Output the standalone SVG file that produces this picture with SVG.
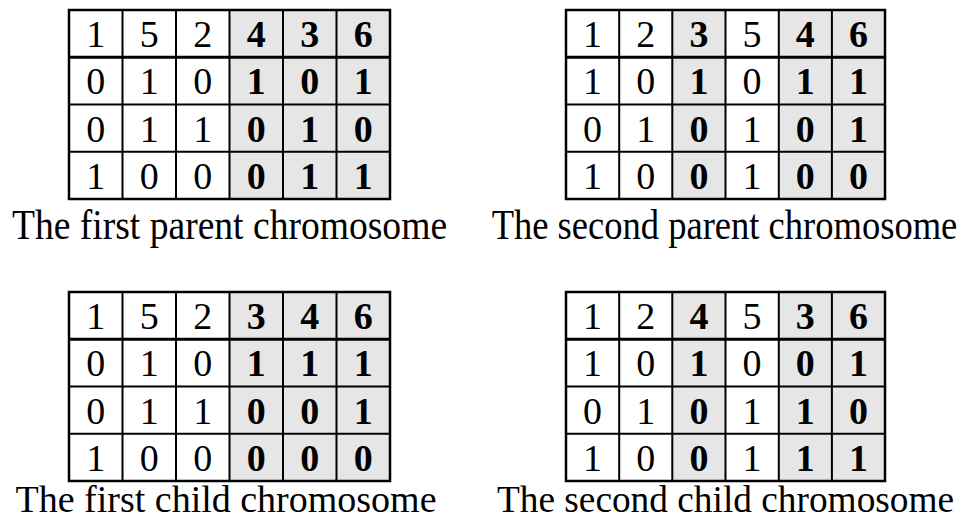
<svg xmlns="http://www.w3.org/2000/svg" width="969" height="520" viewBox="0 0 969 520">
<style>
.bg{fill:#ffffff}
.g{fill:#e6e6e6}
.ln{fill:none;stroke:#000;stroke-width:2}
.hd{fill:none;stroke:#000;stroke-width:3}
.ob{fill:none;stroke:#000;stroke-width:2.5}
text{font-family:"Liberation Serif","Times New Roman",serif;fill:#000}
.d{font-size:38px;text-anchor:middle}
.b{font-weight:bold}
.cap{font-size:42px;text-anchor:middle}
.cap2{font-size:38px;text-anchor:middle}
</style>
<rect class="bg" x="0" y="0" width="969" height="520"/>

<g id="parent1">
<rect class="g" x="229.5" y="10" width="160.5" height="189"/>
<path class="ln" d="M122.5 10V199M176 10V199M229.5 10V199M283 10V199M336.5 10V199M69 104.5H390M69 151.75H390"/>
<path class="hd" d="M69 57.25H390"/>
<rect class="ob" x="69" y="10" width="321" height="189"/>
<g class="d">
<text x="95.75" y="47">1</text><text x="149.25" y="47">5</text><text x="202.75" y="47">2</text><text class="b" x="256.25" y="47">4</text><text class="b" x="309.75" y="47">3</text><text class="b" x="363.25" y="47">6</text>
<text x="95.75" y="94.25">0</text><text x="149.25" y="94.25">1</text><text x="202.75" y="94.25">0</text><text class="b" x="256.25" y="94.25">1</text><text class="b" x="309.75" y="94.25">0</text><text class="b" x="363.25" y="94.25">1</text>
<text x="95.75" y="141.5">0</text><text x="149.25" y="141.5">1</text><text x="202.75" y="141.5">1</text><text class="b" x="256.25" y="141.5">0</text><text class="b" x="309.75" y="141.5">1</text><text class="b" x="363.25" y="141.5">0</text>
<text x="95.75" y="188.75">1</text><text x="149.25" y="188.75">0</text><text x="202.75" y="188.75">0</text><text class="b" x="256.25" y="188.75">0</text><text class="b" x="309.75" y="188.75">1</text><text class="b" x="363.25" y="188.75">1</text>
</g>
<text class="cap" transform="translate(229.5 239) scale(0.895 1)">The first parent chromosome</text>
</g>

<g id="parent2">
<rect class="g" x="672.3" y="10" width="53.2" height="189"/>
<rect class="g" x="778.8" y="10" width="106.2" height="189"/>
<path class="ln" d="M619.2 10V199M672.3 10V199M725.5 10V199M778.8 10V199M831.9 10V199M566 104.5H885M566 151.75H885"/>
<path class="hd" d="M566 57.25H885"/>
<rect class="ob" x="566" y="10" width="319" height="189"/>
<g class="d">
<text x="592.6" y="47">1</text><text x="645.8" y="47">2</text><text class="b" x="698.9" y="47">3</text><text x="752.1" y="47">5</text><text class="b" x="805.3" y="47">4</text><text class="b" x="858.4" y="47">6</text>
<text x="592.6" y="94.25">1</text><text x="645.8" y="94.25">0</text><text class="b" x="698.9" y="94.25">1</text><text x="752.1" y="94.25">0</text><text class="b" x="805.3" y="94.25">1</text><text class="b" x="858.4" y="94.25">1</text>
<text x="592.6" y="141.5">0</text><text x="645.8" y="141.5">1</text><text class="b" x="698.9" y="141.5">0</text><text x="752.1" y="141.5">1</text><text class="b" x="805.3" y="141.5">0</text><text class="b" x="858.4" y="141.5">1</text>
<text x="592.6" y="188.75">1</text><text x="645.8" y="188.75">0</text><text class="b" x="698.9" y="188.75">0</text><text x="752.1" y="188.75">1</text><text class="b" x="805.3" y="188.75">0</text><text class="b" x="858.4" y="188.75">0</text>
</g>
<text class="cap" transform="translate(724.5 239) scale(0.87 1)">The second parent chromosome</text>
</g>

<g id="child1">
<rect class="g" x="229.5" y="292" width="160.5" height="189"/>
<path class="ln" d="M122.5 292V481M176 292V481M229.5 292V481M283 292V481M336.5 292V481M69 386.5H390M69 433.75H390"/>
<path class="hd" d="M69 339.25H390"/>
<rect class="ob" x="69" y="292" width="321" height="189"/>
<g class="d">
<text x="95.75" y="329">1</text><text x="149.25" y="329">5</text><text x="202.75" y="329">2</text><text class="b" x="256.25" y="329">3</text><text class="b" x="309.75" y="329">4</text><text class="b" x="363.25" y="329">6</text>
<text x="95.75" y="376.25">0</text><text x="149.25" y="376.25">1</text><text x="202.75" y="376.25">0</text><text class="b" x="256.25" y="376.25">1</text><text class="b" x="309.75" y="376.25">1</text><text class="b" x="363.25" y="376.25">1</text>
<text x="95.75" y="423.5">0</text><text x="149.25" y="423.5">1</text><text x="202.75" y="423.5">1</text><text class="b" x="256.25" y="423.5">0</text><text class="b" x="309.75" y="423.5">0</text><text class="b" x="363.25" y="423.5">1</text>
<text x="95.75" y="470.5">1</text><text x="149.25" y="470.5">0</text><text x="202.75" y="470.5">0</text><text class="b" x="256.25" y="470.5">0</text><text class="b" x="309.75" y="470.5">0</text><text class="b" x="363.25" y="470.5">0</text>
</g>
<text class="cap2" transform="translate(226 512) scale(1 1)">The first child chromosome</text>
</g>

<g id="child2">
<rect class="g" x="672.3" y="292" width="53.2" height="189"/>
<rect class="g" x="778.8" y="292" width="106.2" height="189"/>
<path class="ln" d="M619.2 292V481M672.3 292V481M725.5 292V481M778.8 292V481M831.9 292V481M566 386.5H885M566 433.75H885"/>
<path class="hd" d="M566 339.25H885"/>
<rect class="ob" x="566" y="292" width="319" height="189"/>
<g class="d">
<text x="592.6" y="329">1</text><text x="645.8" y="329">2</text><text class="b" x="698.9" y="329">4</text><text x="752.1" y="329">5</text><text class="b" x="805.3" y="329">3</text><text class="b" x="858.4" y="329">6</text>
<text x="592.6" y="376.25">1</text><text x="645.8" y="376.25">0</text><text class="b" x="698.9" y="376.25">1</text><text x="752.1" y="376.25">0</text><text class="b" x="805.3" y="376.25">0</text><text class="b" x="858.4" y="376.25">1</text>
<text x="592.6" y="423.5">0</text><text x="645.8" y="423.5">1</text><text class="b" x="698.9" y="423.5">0</text><text x="752.1" y="423.5">1</text><text class="b" x="805.3" y="423.5">1</text><text class="b" x="858.4" y="423.5">0</text>
<text x="592.6" y="470.5">1</text><text x="645.8" y="470.5">0</text><text class="b" x="698.9" y="470.5">0</text><text x="752.1" y="470.5">1</text><text class="b" x="805.3" y="470.5">1</text><text class="b" x="858.4" y="470.5">1</text>
</g>
<text class="cap2" transform="translate(725.5 512) scale(0.983 1)">The second child chromosome</text>
</g>
</svg>
